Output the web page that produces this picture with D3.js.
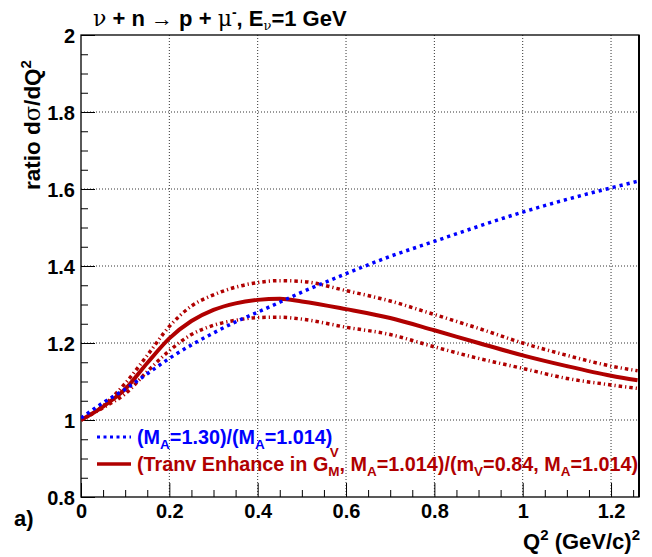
<!DOCTYPE html>
<html><head><meta charset="utf-8">
<script src="https://cdn.jsdelivr.net/npm/d3@7"></script>
<style>body{margin:0;background:#fff}svg{display:block}text{font-family:"Liberation Sans",Arial,Helvetica,sans-serif;font-weight:bold}</style>
</head><body>
<script>
const q2 = [0, 0.05, 0.1, 0.15, 0.2, 0.25, 0.3, 0.35, 0.4, 0.45, 0.5, 0.6, 0.7, 0.8, 0.9, 1.0, 1.1, 1.2, 1.26];
const ratioMA130 = [1.005, 1.045, 1.08, 1.12, 1.16, 1.195, 1.226, 1.255, 1.28, 1.306, 1.332, 1.38, 1.425, 1.464, 1.503, 1.54, 1.573, 1.603, 1.62];
const ratioTE = [1.0, 1.035, 1.08, 1.148, 1.212, 1.257, 1.286, 1.303, 1.312, 1.315, 1.308, 1.288, 1.265, 1.233, 1.2, 1.168, 1.14, 1.115, 1.103];
const ratioTEup = [1.0, 1.037, 1.095, 1.168, 1.243, 1.296, 1.325, 1.345, 1.357, 1.362, 1.36, 1.336, 1.309, 1.274, 1.238, 1.2, 1.168, 1.14, 1.128];
const ratioTElo = [1.0, 1.032, 1.068, 1.126, 1.18, 1.222, 1.246, 1.259, 1.266, 1.267, 1.262, 1.241, 1.222, 1.19, 1.16, 1.134, 1.108, 1.091, 1.082];
const xMajor = [0, 0.2, 0.4, 0.6, 0.8, 1.0, 1.2];
const yMajor = [0.8, 1.0, 1.2, 1.4, 1.6, 1.8, 2.0];
const xTickLabels = ["0", "0.2", "0.4", "0.6", "0.8", "1", "1.2"];
const yTickLabels = ["0.8", "1", "1.2", "1.4", "1.6", "1.8", "2"];

const W = 652, H = 557;
const L = 81, R = 639, T = 35, B = 497;
const blue = "#0000ff", red = "#b00000";

const svg = d3.select("body").append("svg").attr("width", W).attr("height", H);
const x = d3.scaleLinear().domain([0, 1.2633]).range([L, R]);
const y = d3.scaleLinear().domain([0.8, 2.0]).range([B, T]);

// grid
const g = svg.append("g");
g.selectAll("line.gx").data(xMajor.filter(v => v > 0)).join("line")
  .attr("x1", d => x(d)).attr("x2", d => x(d)).attr("y1", T).attr("y2", B)
  .attr("stroke", "#333").attr("stroke-width", 1).attr("stroke-dasharray", "1,2");
g.selectAll("line.gy").data(yMajor.filter(v => v > 0.8 && v < 2)).join("line")
  .attr("x1", L).attr("x2", R).attr("y1", d => y(d)).attr("y2", d => y(d))
  .attr("stroke", "#333").attr("stroke-width", 1).attr("stroke-dasharray", "1,2");

// minor ticks
const xMinor = d3.range(0, 1.2633, 0.05).filter(v => Math.abs(v / 0.2 - Math.round(v / 0.2)) > 1e-6);
const yMinor = d3.range(0.8, 2.0001, 0.05).filter(v => Math.abs(v / 0.2 - Math.round(v / 0.2)) > 1e-6);

const ax = svg.append("g").attr("transform", `translate(0,${B})`)
  .call(d3.axisBottom(x).tickValues(xMajor).tickSize(-14).tickSizeOuter(0).tickPadding(4)
    .tickFormat((d, i) => xTickLabels[i]));
svg.append("g").attr("transform", `translate(0,${B})`)
  .call(d3.axisBottom(x).tickValues(xMinor).tickSize(-7).tickSizeOuter(0).tickFormat(""));
const ay = svg.append("g").attr("transform", `translate(${L},0)`)
  .call(d3.axisLeft(y).tickValues(yMajor).tickSize(-14).tickSizeOuter(0).tickPadding(6)
    .tickFormat((d, i) => yTickLabels[i]));
svg.append("g").attr("transform", `translate(${L},0)`)
  .call(d3.axisLeft(y).tickValues(yMinor).tickSize(-7).tickSizeOuter(0).tickFormat(""));
svg.selectAll(".domain").remove();
svg.selectAll(".tick line").attr("stroke", "#000").attr("stroke-width", 1);
svg.selectAll(".tick text").attr("fill", "#000").style("font-size", "20px")
  .style("font-family", "'Liberation Sans',Arial,sans-serif").style("font-weight", "bold");
ax.selectAll(".tick text").attr("dy", "0.85em");
ay.selectAll(".tick text").attr("dy", "0.36em");

// frame
svg.append("rect").attr("x", L).attr("y", T).attr("width", R - L).attr("height", B - T)
  .attr("fill", "none").attr("stroke", "#000").attr("stroke-width", 1.3);
svg.append("line").attr("x1", R).attr("x2", R).attr("y1", T).attr("y2", B).attr("stroke", "#000").attr("stroke-width", 2);

// curves
svg.append("clipPath").attr("id", "c").append("rect")
  .attr("x", L).attr("y", T).attr("width", R - L).attr("height", B - T);
const line = vals => d3.line().x((d, i) => x(q2[i])).y(d => y(d)).curve(d3.curveMonotoneX)(vals);
const cg = svg.append("g").attr("clip-path", "url(#c)");
cg.append("path").attr("d", line(ratioTEup)).attr("fill", "none").attr("stroke", red)
  .attr("stroke-width", 3.5).attr("stroke-dasharray", "3.5,3,1.2,3");
cg.append("path").attr("d", line(ratioTElo)).attr("fill", "none").attr("stroke", red)
  .attr("stroke-width", 3.5).attr("stroke-dasharray", "3.5,3,1.2,3");
cg.append("path").attr("d", line(ratioTE)).attr("fill", "none").attr("stroke", red)
  .attr("stroke-width", 4);
cg.append("path").attr("d", line(ratioMA130)).attr("fill", "none").attr("stroke", blue)
  .attr("stroke-width", 3.5).attr("stroke-dasharray", "3.2,4");

// legend
svg.append("line").attr("x1", 97).attr("x2", 131).attr("y1", 437).attr("y2", 437)
  .attr("stroke", blue).attr("stroke-width", 3).attr("stroke-dasharray", "3,3.5");
svg.append("line").attr("x1", 97).attr("x2", 131).attr("y1", 464).attr("y2", 464)
  .attr("stroke", red).attr("stroke-width", 3.5);

const fs = "19.8px", sfs = "13.5px";
const t1 = svg.append("text").attr("x", 137).attr("y", 444).attr("fill", blue).style("font-size", fs);
t1.append("tspan").text("(M");
t1.append("tspan").attr("dy", 5).style("font-size", sfs).text("A");
t1.append("tspan").attr("dy", -5).text("=1.30)/(M");
t1.append("tspan").attr("dy", 5).style("font-size", sfs).text("A");
t1.append("tspan").attr("dy", -5).text("=1.014)");

const t2 = svg.append("text").attr("x", 137).attr("y", 471).attr("fill", red).style("font-size", fs);
t2.append("tspan").text("(Tranv Enhance in G");
const gx0 = t2.append("tspan").attr("dy", 5).style("font-size", sfs).text("M");
t2.append("tspan").attr("dy", -5).text(", M");
t2.append("tspan").attr("dy", 5).style("font-size", sfs).text("A");
t2.append("tspan").attr("dy", -5).text("=1.014)/(m");
t2.append("tspan").attr("dy", 5).style("font-size", sfs).text("V");
t2.append("tspan").attr("dy", -5).text("=0.84, M");
t2.append("tspan").attr("dy", 5).style("font-size", sfs).text("A");
t2.append("tspan").attr("dy", -5).text("=1.014)");
{
  const p = gx0.node().getStartPositionOfChar(0);
  svg.append("text").attr("x", p.x + 1.5).attr("y", 457).attr("fill", red).style("font-size", sfs).text("V");
}

// title
const tt = svg.append("text").attr("x", 93).attr("y", 26).attr("fill", "#000").style("font-size", "22px");
tt.append("tspan").style("font-weight", "normal").style("font-family", "'DejaVu Serif',serif").text("ν");
tt.append("tspan").text(" + n ");
tt.append("tspan").style("font-weight", "normal").text("→");
tt.append("tspan").text(" p + ");
tt.append("tspan").style("font-weight", "normal").style("font-family", "'DejaVu Serif',serif").text("μ");
tt.append("tspan").attr("dy", -9).style("font-size", "14px").text("-");
tt.append("tspan").attr("dy", 9).text(", E");
tt.append("tspan").attr("dy", 4).style("font-size", "13px").style("font-weight", "normal").style("font-family", "'DejaVu Serif',serif").text("ν");
tt.append("tspan").attr("dy", -4).text("=1 GeV");

// y label
const yl = svg.append("text").attr("transform", "translate(40,190) rotate(-90)").attr("fill", "#000").style("font-size", "22.5px");
yl.append("tspan").text("ratio d");
yl.append("tspan").style("font-weight", "normal").style("font-family", "'DejaVu Serif',serif").text("σ");
yl.append("tspan").text("/dQ");
yl.append("tspan").attr("dy", -9).style("font-size", "15px").text("2");

// x label
const xl = svg.append("text").attr("x", 640).attr("y", 549).attr("text-anchor", "end").attr("fill", "#000").style("font-size", "22px");
xl.append("tspan").text("Q");
xl.append("tspan").attr("dy", -9).style("font-size", "15px").text("2");
xl.append("tspan").attr("dy", 9).text(" (GeV/c)");
xl.append("tspan").attr("dy", -9).style("font-size", "15px").text("2");

svg.append("text").attr("x", 14).attr("y", 526).attr("fill", "#000").style("font-size", "22px").text("a)");
</script>
</body></html>
